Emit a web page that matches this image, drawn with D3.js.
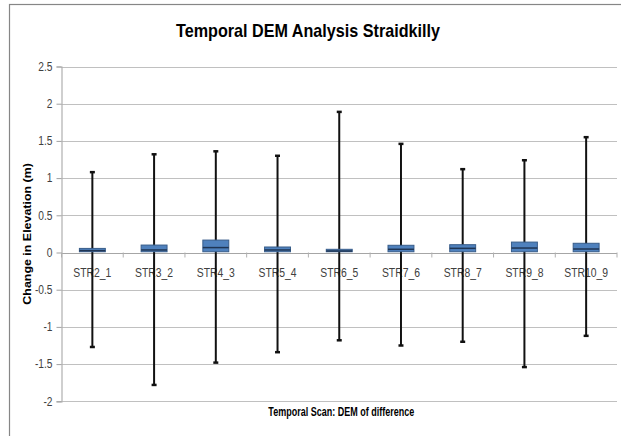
<!DOCTYPE html>
<html>
<head>
<meta charset="utf-8">
<script src="https://cdn.jsdelivr.net/npm/d3@7"></script>
<style>
    body { margin: 0; background: #fff; }
    svg { display: block; }
    .narrow { font-family: 'Liberation Sans Narrow', 'Arial Narrow', 'Liberation Sans', sans-serif; }
</style>
</head>
<body>
<div id="chart"></div>
<script>
// data
var categories = ['STR2_1', 'STR3_2', 'STR4_3', 'STR5_4', 'STR6_5', 'STR7_6', 'STR8_7', 'STR9_8', 'STR10_9'];
var maxValues = [1.08, 1.32, 1.36, 1.30, 1.89, 1.46, 1.12, 1.24, 1.55];
var q3Values = [0.055, 0.10, 0.167, 0.074, 0.043, 0.097, 0.105, 0.14, 0.124];
var medianValues = [0.025, 0.034, 0.066, 0.034, 0.02, 0.043, 0.056, 0.06, 0.047];
var q1Values = [0.01, 0.01, 0.01, 0.01, 0.01, 0.01, 0.01, 0.01, 0.01];
var minValues = [-1.27, -1.78, -1.48, -1.34, -1.18, -1.25, -1.20, -1.54, -1.12];
var yTicks = [-2, -1.5, -1, -0.5, 0, 0.5, 1, 1.5, 2, 2.5];

var config = {
    width: 621,
    height: 436,
    plotLeft: 61.5,
    plotRight: 617,
    plotTop: 66.5,
    plotBottom: 401.3,
    squeeze: 0.83
};

var data = categories.map(function(c, i) {
    return { name: c, max: maxValues[i], q3: q3Values[i], median: medianValues[i], q1: q1Values[i], min: minValues[i] };
});

var svg = d3.select('#chart')
    .append('svg')
    .attr('width', config.width)
    .attr('height', config.height);

// chart frame (cut off at right and bottom like the screenshot)
svg.append('rect')
    .attr('x', 9.5)
    .attr('y', 4.5)
    .attr('width', 700)
    .attr('height', 500)
    .attr('fill', '#fff')
    .attr('stroke', '#868686')
    .attr('stroke-width', 1.2);

var x = d3.scaleBand()
    .domain(categories)
    .range([config.plotLeft, config.plotRight]);

var y = d3.scaleLinear()
    .domain([-2, 2.5])
    .range([config.plotBottom, config.plotTop]);

// squeeze text horizontally, the screenshot was narrowed
function squeeze(sel, f) {
    sel.each(function() {
        var len = this.getComputedTextLength();
        d3.select(this).attr('textLength', len * (f || config.squeeze)).attr('lengthAdjust', 'spacingAndGlyphs');
    });
}

// gridlines
svg.append('g')
    .selectAll('line')
    .data(yTicks)
    .enter().append('line')
    .attr('x1', config.plotLeft)
    .attr('x2', config.plotRight)
    .attr('y1', function(d) { return Math.round(y(d)) + 0.5; })
    .attr('y2', function(d) { return Math.round(y(d)) + 0.5; })
    .attr('stroke', function(d) { return d === 0 ? '#a6a6a6' : '#c0c0c0'; })
    .attr('stroke-width', 1.2);

// y axis, plain hyphen for negatives like Excel
var yAxis = svg.append('g')
    .attr('transform', 'translate(' + config.plotLeft + ',0)')
    .call(d3.axisLeft(y).tickValues(yTicks).tickSize(5).tickPadding(4).tickFormat(function(d) { return String(d); }));

yAxis.select('.domain').attr('stroke', '#b0b0b0').attr('stroke-width', 1.2);
yAxis.selectAll('.tick line').attr('stroke', '#a0a0a0');
yAxis.selectAll('.tick text')
    .attr('class', 'narrow')
    .attr('font-size', 12)
    .attr('fill', '#404040')
    .call(squeeze, 0.85);

// category ticks on the zero line
svg.append('g')
    .selectAll('line')
    .data(d3.range(categories.length + 1))
    .enter().append('line')
    .attr('x1', function(i) { return config.plotLeft + i * x.step(); })
    .attr('x2', function(i) { return config.plotLeft + i * x.step(); })
    .attr('y1', y(0))
    .attr('y2', y(0) + 5)
    .attr('stroke', '#b0b0b0');

// category labels
svg.append('g')
    .selectAll('text')
    .data(categories)
    .enter().append('text')
    .attr('class', 'narrow')
    .attr('x', function(d) { return x(d) + x.bandwidth() / 2; })
    .attr('y', y(0) + 24)
    .attr('text-anchor', 'middle')
    .attr('font-size', 12.5)
    .attr('fill', '#404040')
    .text(function(d) { return d; })
    .call(squeeze);

var boxWidth = x.bandwidth() * 0.42;
var boxes = svg.append('g')
    .selectAll('g')
    .data(data)
    .enter().append('g')
    .attr('transform', function(d) { return 'translate(' + (x(d.name) + x.bandwidth() / 2) + ',0)'; });

// whiskers
boxes.append('line')
    .attr('y1', function(d) { return y(d.max); })
    .attr('y2', function(d) { return y(d.min); })
    .attr('stroke', '#111')
    .attr('stroke-width', 2);

boxes.selectAll('line.cap')
    .data(function(d) { return [d.max, d.min]; })
    .enter().append('line')
    .classed('cap', true)
    .attr('x1', -2.5)
    .attr('x2', 2.5)
    .attr('y1', function(v) { return y(v); })
    .attr('y2', function(v) { return y(v); })
    .attr('stroke', '#111')
    .attr('stroke-width', 2.5);

// boxes
boxes.append('rect')
    .attr('x', -boxWidth / 2)
    .attr('width', boxWidth)
    .attr('y', function(d) { return y(d.q3); })
    .attr('height', function(d) { return y(d.q1) - y(d.q3); })
    .attr('fill', '#4f81bd')
    .attr('stroke', '#385d8a')
    .attr('stroke-width', 1);

boxes.append('line')
    .attr('x1', -boxWidth / 2)
    .attr('x2', boxWidth / 2)
    .attr('y1', function(d) { return y(d.median); })
    .attr('y2', function(d) { return y(d.median); })
    .attr('stroke', '#1f3554')
    .attr('stroke-width', 1.5);

// titles
svg.append('text')
    .attr('class', 'narrow')
    .attr('x', 308)
    .attr('y', 37)
    .attr('text-anchor', 'middle')
    .attr('font-size', 19)
    .attr('font-weight', 'bold')
    .attr('fill', '#000')
    .text('Temporal DEM Analysis Straidkilly')
    .call(squeeze, 0.85);

svg.append('text')
    .attr('class', 'narrow')
    .attr('x', (config.plotLeft + config.plotRight) / 2 + 2)
    .attr('y', 416)
    .attr('text-anchor', 'middle')
    .attr('font-size', 12.5)
    .attr('font-weight', 'bold')
    .attr('fill', '#000')
    .text('Temporal Scan: DEM of difference')
    .call(squeeze, 0.72);

svg.append('text')
    .attr('transform', 'translate(31,' + (config.plotTop + config.plotBottom) / 2 + ') rotate(-90)')
    .attr('text-anchor', 'middle')
    .attr('font-family', "'Liberation Sans', Arial, sans-serif")
    .attr('font-size', 11)
    .attr('font-weight', 'bold')
    .attr('fill', '#000')
    .text('Change in Elevation (m)')
    .call(squeeze, 1.13);
</script>
</body>
</html>
